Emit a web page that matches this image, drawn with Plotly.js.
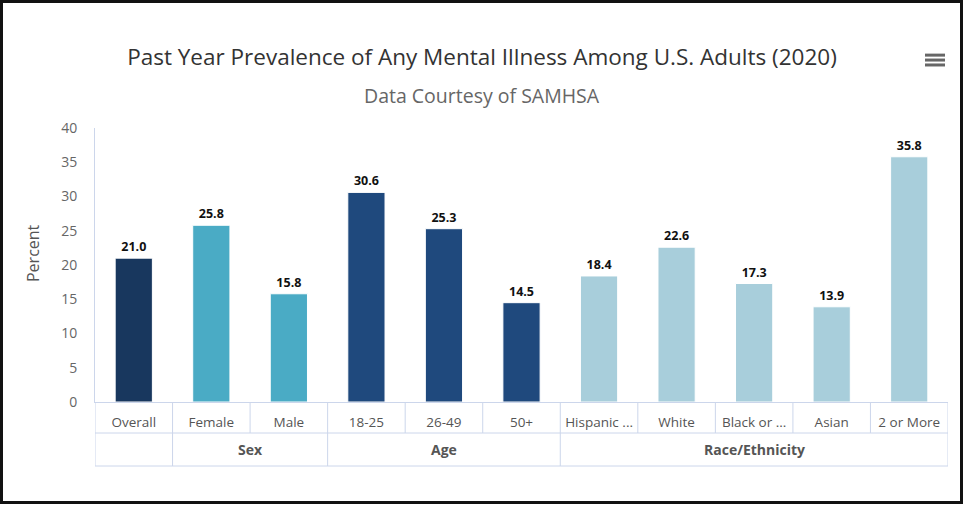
<!DOCTYPE html>
<html>
<head>
<meta charset="utf-8">
<script src="https://cdn.plot.ly/plotly-3.0.1.min.js"></script>
<style>
html,body{margin:0;padding:0;background:#fff;}
#chart{width:965px;height:506px;}
#frame{position:absolute;left:0;top:0;width:957px;height:498px;border:3px solid #111;pointer-events:none;}
</style>
</head>
<body>
<div id="chart"></div>
<div id="frame"></div>
<script>
// ---- data ----
const categories = ["Overall","Female","Male","18-25","26-49","50+","Hispanic ...","White","Black or ...","Asian","2 or More"];
const groups     = ["","Sex","Sex","Age","Age","Age","Race/Ethnicity","Race/Ethnicity","Race/Ethnicity","Race/Ethnicity","Race/Ethnicity"];
const values     = [21.0,25.8,15.8,30.6,25.3,14.5,18.4,22.6,17.3,13.9,35.8];
const groupColors = {"":"#18375e","Sex":"#4aabc5","Age":"#1f497d","Race/Ethnicity":"#a8cedb"};
const yTicks = [0,5,10,15,20,25,30,35,40];

const GRID = "#ccd6eb";
const row1 = -31/274, row2 = -64/274;
const n = categories.length;
const xs = categories.map((c,i)=>i);

const shapes = [];
[row1,row2].forEach(y=>shapes.push({type:"line",xref:"x",yref:"paper",x0:-0.5,x1:n-0.5,y0:y,y1:y,line:{color:GRID,width:1}}));
shapes.push({type:"line",xref:"x",yref:"paper",x0:-0.5,x1:-0.5,y0:0,y1:row2,line:{color:GRID,width:1}});
shapes.push({type:"line",xref:"x",yref:"paper",x0:n-0.5,x1:n-0.5,y0:0,y1:row2,line:{color:GRID,width:1}});
for(let i=1;i<n;i++){
  const groupBreak = groups[i]!==groups[i-1];
  shapes.push({type:"line",xref:"x",yref:"paper",x0:i-0.5,x1:i-0.5,y0:0,y1:groupBreak?row2:row1,line:{color:GRID,width:1}});
}
// menu icon
[1.266,1.248,1.230].forEach(y=>shapes.push({type:"line",xref:"paper",yref:"paper",x0:0.973,x1:0.9965,y0:y,y1:y,line:{color:"#666",width:3}}));

const annotations = [];
const uniq = [...new Set(groups)];
uniq.forEach(g=>{
  if(!g) return;
  const idx = groups.map((v,i)=>v===g?i:-1).filter(i=>i>=0);
  const cx = (idx[0]+idx[idx.length-1])/2;
  annotations.push({xref:"x",yref:"paper",x:cx,y:(row1+row2)/2,text:"<b>"+g+"</b>",showarrow:false,
    font:{family:"Open Sans",size:14,color:"#555"},xanchor:"center",yanchor:"middle"});
});
annotations.push({xref:"paper",yref:"paper",x:(482-95)/853,y:(402-95)/274,text:"Data Courtesy of SAMHSA",showarrow:false,
  font:{family:"Open Sans",size:19.5,color:"#666"},xanchor:"center",yanchor:"middle"});
annotations.push({xref:"paper",yref:"paper",x:(33-95)/853,y:(402-253)/274,text:"Percent",textangle:-90,showarrow:false,
  font:{family:"Open Sans",size:16,color:"#555"},xanchor:"center",yanchor:"middle"});

const trace = {
  type:"bar",
  x:xs, y:values,
  marker:{color:groups.map(g=>groupColors[g]),line:{color:"#fff",width:1}},
  texttemplate:"<b>%{y:.1f}</b>", textposition:"outside", cliponaxis:false,
  textfont:{family:"Open Sans",size:12.5,color:"#111"},
  hoverinfo:"skip"
};

const layout = {
  width:965,height:506,
  margin:{l:95,r:17,t:128,b:104},
  paper_bgcolor:"#fff",plot_bgcolor:"#fff",
  showlegend:false,
  bargap:0.52,
  title:{text:"Past Year Prevalence of Any Mental Illness Among U.S. Adults (2020)",
    font:{family:"Open Sans",size:22.5,color:"#333"},x:(482-95)/853,xref:"paper",xanchor:"center",y:1-57/506,yref:"container",yanchor:"middle"},
  xaxis:{type:"linear",range:[-0.5,n-0.5],tickmode:"array",tickvals:xs,ticktext:categories,
    showgrid:false,zeroline:false,showline:true,linecolor:GRID,ticks:"",ticklabelstandoff:8,
    tickfont:{family:"Open Sans",size:13.5,color:"#555"}},
  yaxis:{range:[0,40],tickmode:"array",tickvals:yTicks,showgrid:false,zeroline:false,
    showline:true,linecolor:GRID,ticks:"",ticklabelstandoff:14,
    tickfont:{family:"Open Sans",size:14,color:"#666"}},
  shapes:shapes,annotations:annotations,
  font:{family:"Open Sans"}
};
Plotly.newPlot("chart",[trace],layout,{displayModeBar:false,staticPlot:true});
</script>
</body>
</html>
